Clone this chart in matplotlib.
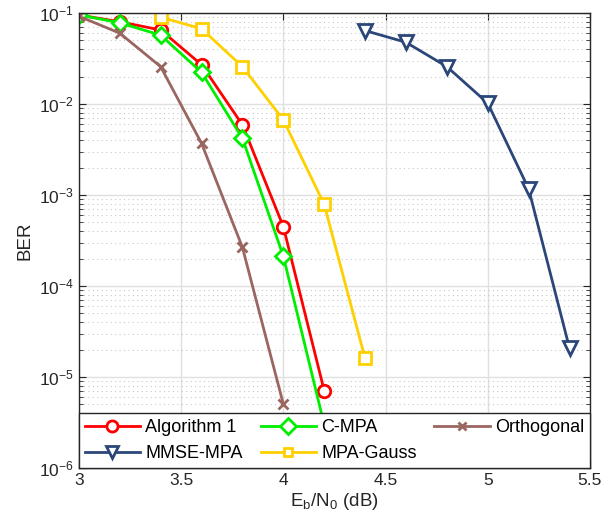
import numpy as np
import matplotlib
matplotlib.use('Agg')
import matplotlib.pyplot as plt
from matplotlib.ticker import LogLocator, NullFormatter, FixedLocator

plt.rcParams['font.family'] = ['Liberation Sans', 'DejaVu Sans']
plt.rcParams['mathtext.fontset'] = 'custom'
plt.rcParams['mathtext.rm'] = 'Liberation Sans'
plt.rcParams['mathtext.it'] = 'Liberation Sans:italic'

# BER curves vs Eb/N0 (dB)
snr_alg1 = [3.0, 3.2, 3.4, 3.6, 3.8, 4.0, 4.2]
ber_alg1 = [0.095, 0.080, 0.065, 0.027, 5.9e-3, 4.5e-4, 7.1e-6]

snr_cmpa = [3.0, 3.2, 3.4, 3.6, 3.8, 4.0, 4.2]
ber_cmpa = [0.095, 0.078, 0.057, 0.0223, 4.2e-3, 2.13e-4, 3.0e-6]

snr_orth = [3.0, 3.2, 3.4, 3.6, 3.8, 4.0]
ber_orth = [0.092, 0.060, 0.0257, 3.7e-3, 2.66e-4, 5.05e-6]

snr_mmse = [4.4, 4.6, 4.8, 5.0, 5.2, 5.4]
ber_mmse = [0.064, 0.0476, 0.0257, 0.0102, 1.17e-3, 2.07e-5]

snr_gauss = [3.4, 3.6, 3.8, 4.0, 4.2, 4.4]
ber_gauss = [0.090, 0.067, 0.0257, 6.7e-3, 7.9e-4, 1.6e-5]

fig = plt.figure(figsize=(6.02, 5.31), dpi=100)
ax = fig.add_axes([0.131, 0.1186, 0.849, 0.857])

lw = 2.0
h_alg1, = ax.semilogy(snr_alg1, ber_alg1, '-o', color='#ff0000', lw=lw, ms=9,
                      mfc='white', mew=2.0, label='Algorithm 1')
h_cmpa, = ax.semilogy(snr_cmpa, ber_cmpa, '-D', color='#00ee00', lw=lw, ms=8,
                      mfc='white', mew=2.0, label='C-MPA')
h_orth, = ax.semilogy(snr_orth, ber_orth, '-x', color='#9a6660', lw=lw, ms=7,
                      mew=2.0, label='Orthogonal')
h_mmse, = ax.semilogy(snr_mmse, ber_mmse, '-v', color='#2b4679', lw=lw, ms=10,
                      mfc='white', mew=2.0, label='MMSE-MPA')
h_gauss, = ax.semilogy(snr_gauss, ber_gauss, '-s', color='#ffd000', lw=lw, ms=8,
                       mfc='white', mew=2.0, label='MPA-Gauss')

ax.set_xlim(3, 5.5)
ax.set_ylim(1e-6, 1e-1)
ax.xaxis.set_major_locator(FixedLocator([3, 3.5, 4, 4.5, 5, 5.5]))
ax.set_xticklabels(['3', '3.5', '4', '4.5', '5', '5.5'])
ax.yaxis.set_major_locator(LogLocator(base=10, numticks=10))
ax.yaxis.set_minor_locator(LogLocator(base=10, subs=np.arange(2, 10), numticks=20))
ax.yaxis.set_minor_formatter(NullFormatter())

ax.grid(True, which='major', color='#e0e0e0', lw=1.0, ls='-')
ax.grid(True, which='minor', axis='y', color='#c8c8c8', lw=0.8, ls=(0, (1, 3)))
ax.set_axisbelow(True)

ax.tick_params(which='both', direction='in', top=True, right=True, labelsize=12.5,
               colors='#262626')
ax.tick_params(which='major', length=5)
ax.tick_params(which='minor', length=3)
for s in ax.spines.values():
    s.set_color('#262626')
    s.set_linewidth(1.0)

ax.set_xlabel('E$_\\mathrm{b}$/N$_\\mathrm{0}$ (dB)', fontsize=13.5, color='#262626', labelpad=2)
ax.set_ylabel('BER', fontsize=13.5, color='#262626', labelpad=4)

handles = [h_alg1, h_mmse, h_cmpa, h_gauss, h_orth]
leg = ax.legend(handles=handles, labels=[h.get_label() for h in handles],
                ncol=3, loc='lower left', bbox_to_anchor=(0.0, 0.0, 1.0, 0.12),
                mode='expand', borderaxespad=0.0, fontsize=13, handlelength=3.05,
                handletextpad=0.3, columnspacing=0.6, borderpad=0.32,
                labelspacing=0.5, fancybox=False, framealpha=1.0,
                edgecolor='#262626')
leg.get_frame().set_linewidth(1.0)
for h, ms in zip(leg.legend_handles, [8, 9, 8, 6, 6]):
    h.set_markersize(ms)

fig.savefig('out.png', dpi=100)
